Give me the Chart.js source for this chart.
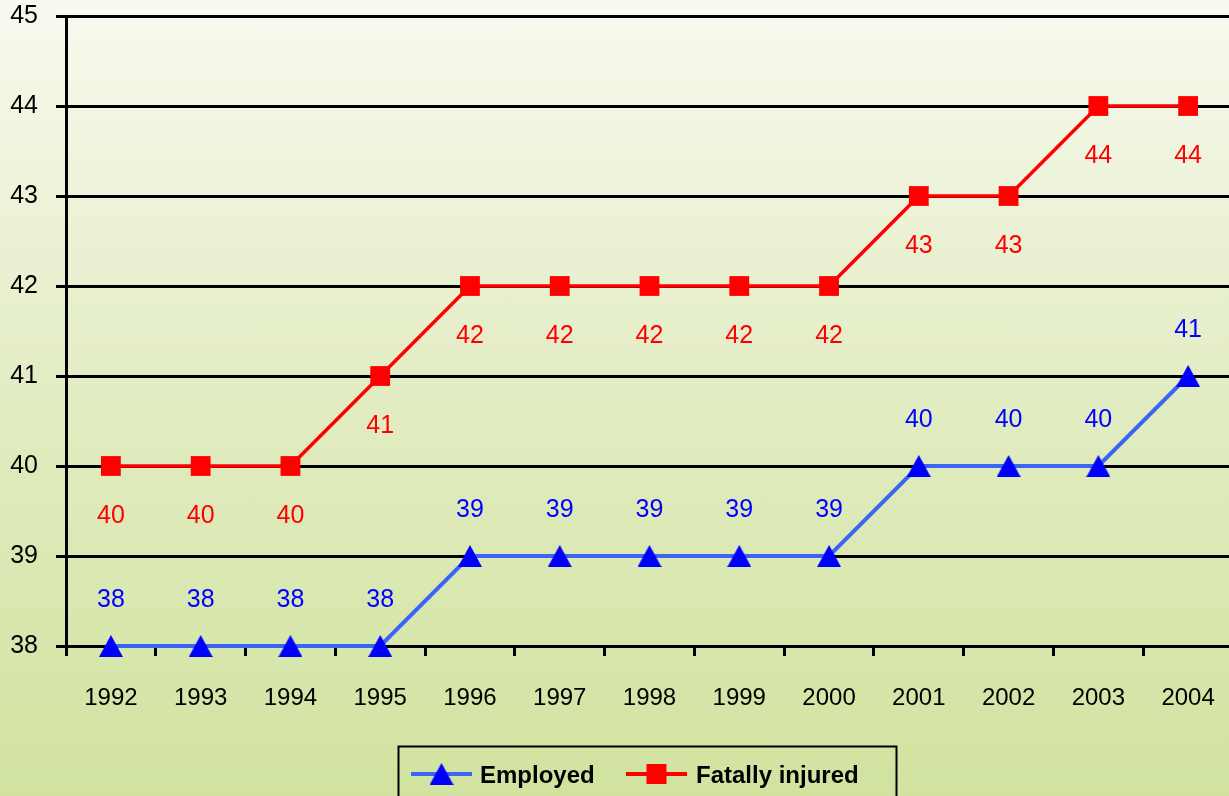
<!DOCTYPE html>
<html>
<head>
<meta charset="utf-8">
<script src="https://cdn.jsdelivr.net/npm/chart.js@4.4.1/dist/chart.umd.min.js"></script>
<style>
html,body{margin:0;padding:0;overflow:hidden;width:1229px;height:796px;
background:linear-gradient(to bottom,#f7faef 0%,#e2ecc2 50%,#d1e39f 100%);}
#wrap{position:absolute;left:0;top:0;width:1247px;height:796px;}
</style>
</head>
<body>
<div id="wrap"><canvas id="c" width="1247" height="796"></canvas></div>
<script>
const years = ['1992','1993','1994','1995','1996','1997','1998','1999','2000','2001','2002','2003','2004'];
const employed = [38,38,38,38,39,39,39,39,39,40,40,40,41];
const fatallyInjured = [40,40,40,41,42,42,42,42,42,43,43,44,44];
const yTicks = [38,39,40,41,42,43,44,45];

const FONT = "'Liberation Sans',Arial,sans-serif";

// custom triangle marker image (centered on the point)
const tri = document.createElement('canvas');
tri.width = 24; tri.height = 22;
(function(){
  const t = tri.getContext('2d');
  t.fillStyle = '#0000ff';
  t.beginPath(); t.moveTo(12,0); t.lineTo(24,22); t.lineTo(0,22); t.closePath(); t.fill();
})();

const labelPlugin = {
  id:'valLabels',
  afterDatasetsDraw(chart){
    const ctx = chart.ctx;
    ctx.save();
    ctx.font = '25px ' + FONT;
    ctx.textAlign = 'center';
    ctx.textBaseline = 'middle';
    chart.data.datasets.forEach((ds,i)=>{
      const meta = chart.getDatasetMeta(i);
      meta.data.forEach((pt,j)=>{
        ctx.fillStyle = ds.labelColor;
        const dy = ds.labelPos === 'above' ? -46 : 50;
        ctx.fillText(String(ds.data[j]), pt.x, pt.y + dy);
      });
    });
    ctx.restore();
  }
};

const legendPlugin = {
  id:'boxLegend',
  afterDraw(chart){
    const ctx = chart.ctx;
    ctx.save();
    ctx.strokeStyle = '#000';
    ctx.lineWidth = 2;
    ctx.strokeRect(398.5, 746.5, 498, 70);
    const items = [
      {x:411, tx:480},
      {x:626, tx:696}
    ];
    chart.data.datasets.forEach((ds,i)=>{
      const it = items[i];
      const y = 774;
      ctx.strokeStyle = ds.borderColor;
      ctx.lineWidth = 4;
      ctx.beginPath(); ctx.moveTo(it.x, y); ctx.lineTo(it.x+61, y); ctx.stroke();
      ctx.fillStyle = ds.pointBackgroundColor;
      const cx = it.x + 30.5;
      if (ds.pointStyle === tri) {
        ctx.drawImage(tri, cx-12, y-11);
      } else {
        ctx.fillRect(cx-10, y-10, 20, 20);
      }
      ctx.fillStyle = '#000';
      ctx.font = 'bold 24px ' + FONT;
      ctx.textAlign = 'left';
      ctx.textBaseline = 'middle';
      ctx.fillText(ds.label, it.tx, y+2);
    });
    ctx.restore();
  }
};

new Chart(document.getElementById('c'), {
  type:'line',
  data:{
    labels: years,
    datasets:[
      {label:'Employed', data:employed, borderColor:'#3b66f5', borderWidth:4,
       pointStyle:tri, pointRadius:12, pointHoverRadius:12,
       pointBackgroundColor:'#0000ff', pointBorderColor:'#0000ff', pointBorderWidth:0,
       labelColor:'#0000ff', labelPos:'above', tension:0, clip:false},
      {label:'Fatally injured', data:fatallyInjured, borderColor:'#ff0000', borderWidth:3.5,
       pointStyle:'rect', pointRadius:14, pointHoverRadius:14,
       pointBackgroundColor:'#ff0000', pointBorderColor:'#ff0000', pointBorderWidth:0,
       labelColor:'#ff0000', labelPos:'below', tension:0, clip:false}
    ]
  },
  options:{
    responsive:false,
    animation:false,
    events:[],
    layout:{padding:{top:16, right:0, bottom:0, left:0}},
    plugins:{legend:{display:false}, tooltip:{enabled:false}},
    scales:{
      x:{
        offset:true,
        grid:{offset:true, drawOnChartArea:false, drawTicks:true, tickLength:10, color:'#000', lineWidth:3},
        border:{display:true, color:'#000', width:3},
        ticks:{color:'#000', font:{family:FONT, size:24}, padding:28, maxRotation:0, autoSkip:false},
        afterFit(s){ s.height = 150; s.paddingLeft = 0; s.paddingRight = 0; }
      },
      y:{
        min:38, max:45,
        afterBuildTicks(s){ s.ticks = yTicks.map(v=>({value:v})); },
        grid:{color:'#000', lineWidth:3, tickLength:10, drawTicks:true},
        border:{display:true, color:'#000', width:3},
        ticks:{color:'#000', font:{family:FONT, size:25}, padding:18, stepSize:1},
        afterFit(s){ s.width = 66; s.paddingTop = 0; s.paddingBottom = 0; }
      }
    }
  },
  plugins:[labelPlugin, legendPlugin]
});
</script>
</body>
</html>
